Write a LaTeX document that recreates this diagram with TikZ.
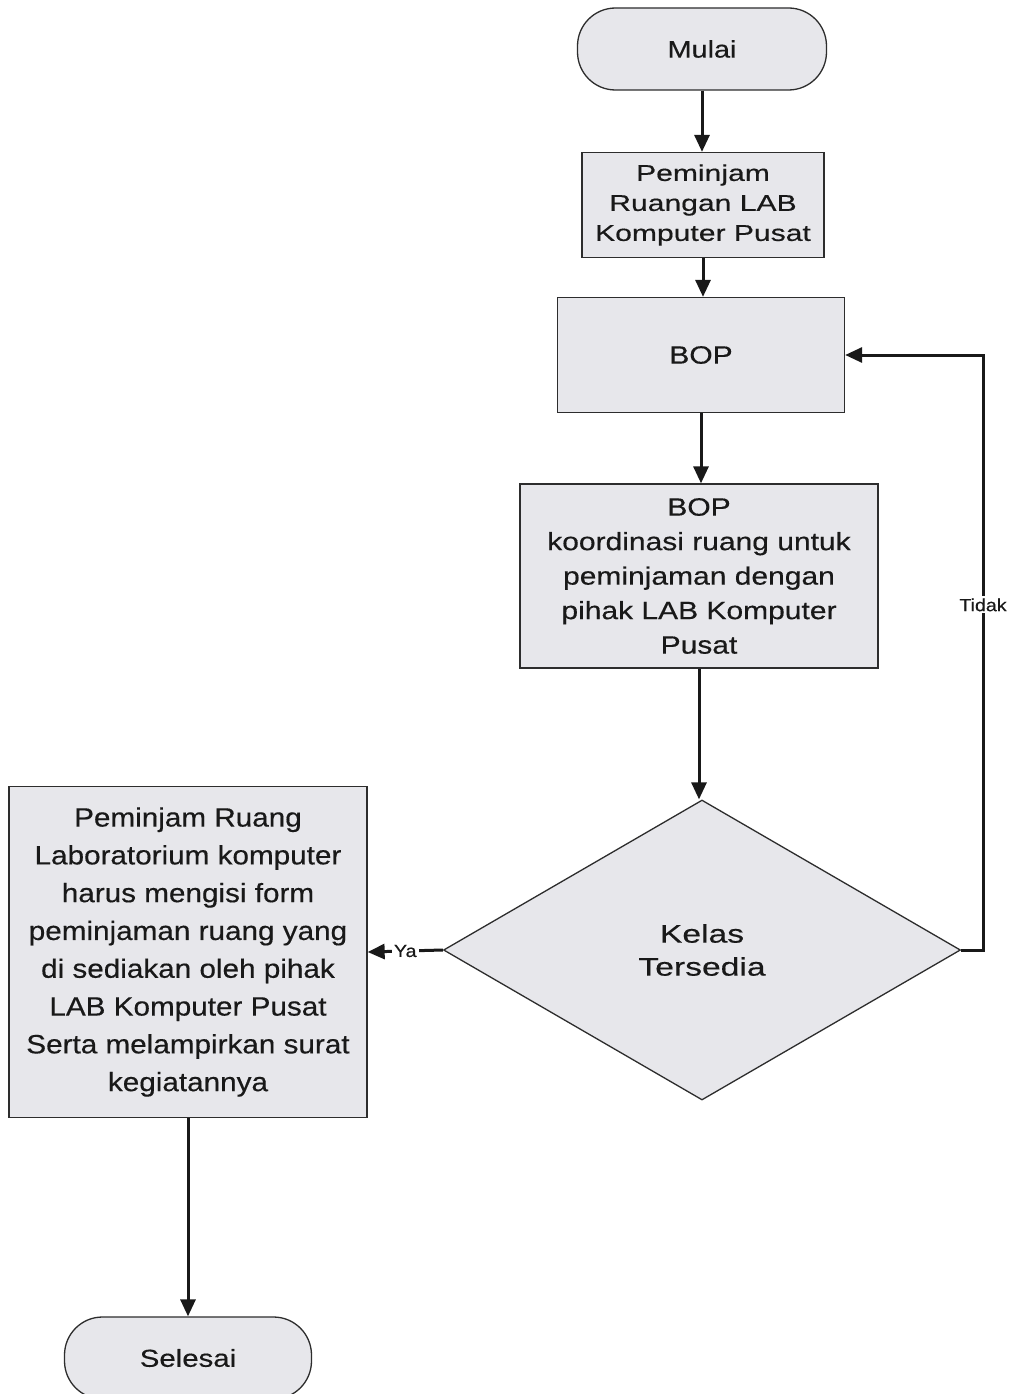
\documentclass[tikz,border=0pt]{standalone}
\usepackage{fontspec}
\setmainfont{Liberation Sans}
\newfontfamily\fA[FakeStretch=1.2,FakeBold=0.4]{Liberation Sans}
\newfontfamily\fB[FakeStretch=1.32,FakeBold=0.4]{Liberation Sans}
\newfontfamily\fC[FakeStretch=1.12,FakeBold=0.4]{Liberation Sans}
\usetikzlibrary{arrows.meta,shapes.geometric}
\definecolor{boxfill}{RGB}{231,231,235}
\definecolor{edge}{RGB}{45,45,45}
\definecolor{ink}{RGB}{25,25,25}
\tikzset{
  shp/.style={draw=edge, line width=1.3pt, fill=boxfill, inner sep=0pt, align=center, text=ink},
  proc/.style={shp, rectangle},
  term/.style={shp, rectangle, rounded corners=38pt},
  dec/.style={shp, diamond},
  conn/.style={draw=ink, line width=3pt, -{Triangle[length=17pt,width=15pt]}},
  lbl/.style={fill=white, inner sep=2pt, text=ink, font=\fC\fontsize{17.5}{20}\selectfont}
}
\begin{document}
\begin{tikzpicture}[x=1pt,y=-1pt]
\useasboundingbox (0,0) rectangle (1010,1394);
\fill[white] (0,0) rectangle (1010,1394);

\node[term, minimum width=249pt, minimum height=82pt, font=\fA\fontsize{24}{30}\selectfont] (start) at (702,49) {Mulai};
\node[proc, minimum width=242pt, minimum height=105pt, font=\fB\fontsize{22.8}{30}\selectfont] (p1) at (703,205) {Peminjam\\Ruangan LAB\\Komputer Pusat};
\node[proc, minimum width=287pt, minimum height=115pt, font=\fA\fontsize{25}{34}\selectfont] (bop) at (701,355) {BOP};
\node[proc, minimum width=358pt, minimum height=184pt, font=\fA\fontsize{25}{34.5}\selectfont] (koord) at (699,576) {BOP\\koordinasi ruang untuk\\peminjaman dengan\\pihak LAB Komputer\\Pusat};
\node[dec, minimum width=517pt, minimum height=300pt, aspect=1.72, font=\fB\fontsize{25.5}{33}\selectfont] (dec) at (702,950) {Kelas\\Tersedia};
\node[proc, minimum width=358pt, minimum height=331pt, font=\fC\fontsize{26.5}{37.8}\selectfont] (form) at (188,952) {Peminjam Ruang\\Laboratorium komputer\\harus mengisi form\\peminjaman ruang yang\\di sediakan oleh pihak\\LAB Komputer Pusat\\Serta melampirkan surat\\kegiatannya};
\node[term, minimum width=247pt, minimum height=82pt, font=\fA\fontsize{24.5}{30}\selectfont] (end) at (188,1358) {Selesai};

\coordinate (tr) at (983,950);
\coordinate (tt) at (983,355);

\draw[conn] (start.south) -- (start.south |- p1.north);
\draw[conn] (p1.south) -- (p1.south |- bop.north);
\draw[conn] (bop.south) -- (bop.south |- koord.north);
\draw[conn] (koord.south) -- (koord.south |- dec.north);
\draw[conn] (dec.west) -- node[lbl, pos=0.5]{Ya} (form.east);
\draw[conn] (dec.east) -- (tr) -- node[lbl, pos=0.58]{Tidak} (tt) -- (bop.east);
\draw[conn] (form.south) -- (end.north);
\end{tikzpicture}
\end{document}
